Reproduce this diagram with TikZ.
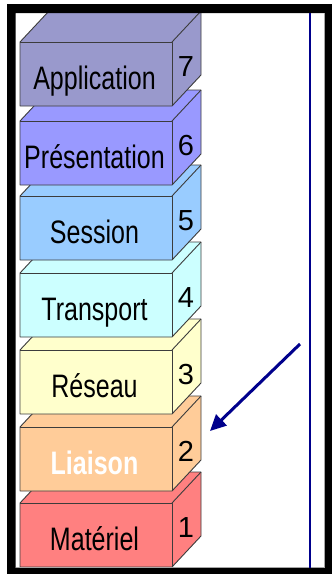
\documentclass[tikz,border=0pt]{standalone}
\usepackage{fontspec}
\setmainfont{Liberation Sans}
\newfontfamily\narrowsans[FakeStretch=0.77]{Liberation Sans}
\usetikzlibrary{arrows.meta}

\definecolor{appcol}{HTML}{9999CC}
\definecolor{precol}{HTML}{9999FF}
\definecolor{sescol}{HTML}{99CCFF}
\definecolor{tracol}{HTML}{CCFFFF}
\definecolor{rescol}{HTML}{FFFFCC}
\definecolor{liacol}{HTML}{FFCC99}
\definecolor{matcol}{HTML}{FF8080}
\definecolor{edgegray}{HTML}{3C3C3C}
\definecolor{navyline}{RGB}{0,0,140}

\tikzset{
  layeredge/.style={draw=edgegray, line width=0.9pt, line join=round},
  layerlabel/.style={anchor=base, inner sep=0pt, text=black,
    font=\narrowsans\fontsize{32.5}{36}\selectfont},
  lblplain/.style={},
  lblbold/.style={text=white, font=\narrowsans\bfseries\fontsize{32.5}{36}\selectfont},
  layernum/.style={anchor=base, inner sep=0pt, font=\fontsize{29}{32}\selectfont},
}

\begin{document}
\begin{tikzpicture}[x=1pt, y=-1pt]
  \useasboundingbox (0,0) rectangle (332,574);

  % stacked layers, drawn bottom-up so each block hides the top of the one below
  \foreach \t/\c/\lab/\num/\sty in {
      503/matcol/Matériel/1/lblplain,
      427/liacol/Liaison/2/lblbold,
      350/rescol/Réseau/3/lblplain,
      273/tracol/Transport/4/lblplain,
      196/sescol/Session/5/lblplain,
      121/precol/Présentation/6/lblplain,
      42/appcol/Application/7/lblplain} {
    \path[layeredge, fill=\c]
      (20,\t) -- (49,\t-31) -- (201,\t-31) -- (201,\t+33)
      -- (172,\t+64) -- (20,\t+64) -- cycle;
    \draw[layeredge] (20,\t) -- (172,\t) -- (172,\t+64);
    \draw[layeredge] (172,\t) -- (201,\t-31);
    \node[layerlabel, \sty] (label-\num) at (94.5,\t+47.5) {\lab};
    \node[layernum] (num-\num) at (186,\t+34) {\num};
  }

  % outer frame
  \fill[black, even odd rule] (7,4) rectangle (332,574) (15.5,13) rectangle (325,568);
  \draw[black!35, line width=0.8pt] (324.4,13) -- (324.4,567.4) -- (15.5,567.4);

  % vertical line and arrow
  \coordinate (vtop) at (310,13);
  \coordinate (vbot) at (310,568);
  \draw[navyline, line width=2pt] (vtop) -- (vbot);
  \coordinate (arrowstart) at (300,344);
  \coordinate (arrowend) at (210,431);
  \draw[navyline, line width=3pt, -{Triangle[length=16pt,width=15pt]}]
    (arrowstart) -- (arrowend);
\end{tikzpicture}
\end{document}
